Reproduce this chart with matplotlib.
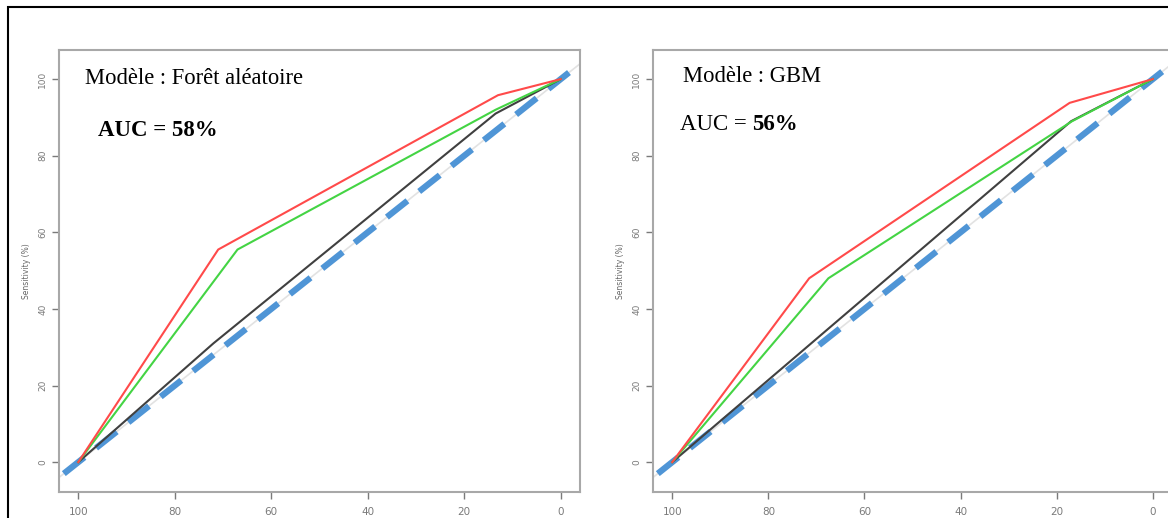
import matplotlib.pyplot as plt
from matplotlib.patches import Rectangle

# ---- data (specificity %, sensitivity %) ----
rf_red_x = [100, 71, 13, 0]
rf_red_y = [0, 55.5, 95.8, 100]
rf_green_x = [100, 67, 13.5, 0]
rf_green_y = [0, 55.5, 92, 100]
rf_black_x = [100, 72, 13.5, 0]
rf_black_y = [0, 31, 91, 100]

gbm_red_x = [100, 71.5, 17.3, 0]
gbm_red_y = [0, 48, 93.8, 100]
gbm_green_x = [100, 67.5, 16.8, 0]
gbm_green_y = [0, 48, 89, 100]
gbm_black_x = [100, 17, 0]
gbm_black_y = [0, 89, 100]

diag_x = [103, -2]
diag_y = [-3, 102]
ticks = [0, 20, 40, 60, 80, 100]

fig = plt.figure(figsize=(11.68, 5.18), dpi=100)

# outer black frame (cut off at right and bottom)
fig.patches.append(Rectangle((7.5 / 1168, -0.1), 1.2, 1 - 6.5 / 518 + 0.1,
                             transform=fig.transFigure, fill=False,
                             edgecolor='black', linewidth=1.5))


def roc_panel(ax, rx, ry, gx, gy, bx, by):
    ax.set_xlim(104, -4)
    ax.set_ylim(-7.8, 107.6)
    # reference diagonal
    ax.plot([104, -4], [-4, 104], color='#e2e2e2', linewidth=1.2, zorder=1)
    ax.plot(diag_x, diag_y, color='#4f95d6', linewidth=4.5,
            dashes=(4.2, 2.4), zorder=2)
    ax.plot(bx, by, color='#404040', linewidth=1.5, zorder=3)
    ax.plot(gx, gy, color='#44d444', linewidth=1.5, zorder=4)
    ax.plot(rx, ry, color='#ff4a4a', linewidth=1.5, zorder=5)
    ax.set_xticks(ticks)
    ax.set_yticks(ticks)
    ax.tick_params(colors='#7a7a7a', labelsize=6.5, length=5, width=1)
    ax.tick_params(axis='x', labelsize=7.5, pad=6)
    for lab in ax.get_yticklabels():
        lab.set_rotation(90)
        lab.set_va('center')
    for s in ax.spines.values():
        s.set_color('#a8a8a8')
        s.set_linewidth(1.5)
    ax.set_ylabel('Sensitivity (%)', fontsize=5.5, color='#666666', labelpad=5)


ax1 = fig.add_axes([59 / 1168, 26 / 518, 521 / 1168, 442 / 518])
roc_panel(ax1, rf_red_x, rf_red_y, rf_green_x, rf_green_y, rf_black_x, rf_black_y)
ax1.text(85 / 1168, 439 / 518, 'Modèle : Forêt aléatoire', transform=fig.transFigure,
         family='Liberation Serif', fontsize=16.3, va='center')
ax1.text(98 / 1168, 388 / 518, 'AUC = 58%', transform=fig.transFigure,
         family='Liberation Serif', fontsize=16.5, fontweight='bold', va='center')

ax2 = fig.add_axes([653 / 1168, 26 / 518, 519 / 1168, 442 / 518])
roc_panel(ax2, gbm_red_x, gbm_red_y, gbm_green_x, gbm_green_y, gbm_black_x, gbm_black_y)
ax2.text(683 / 1168, 442 / 518, 'Modèle : GBM', transform=fig.transFigure,
         family='Liberation Serif', fontsize=16.3, va='center')
t = ax2.text(680 / 1168, 393 / 518, 'AUC = ', transform=fig.transFigure,
             family='Liberation Serif', fontsize=16.5, va='center')
ax2.annotate('56%', xycoords=t, xy=(1, 0.5), va='center',
             family='Liberation Serif', fontsize=16.5, fontweight='bold')

fig.savefig('out.png', dpi=100)
